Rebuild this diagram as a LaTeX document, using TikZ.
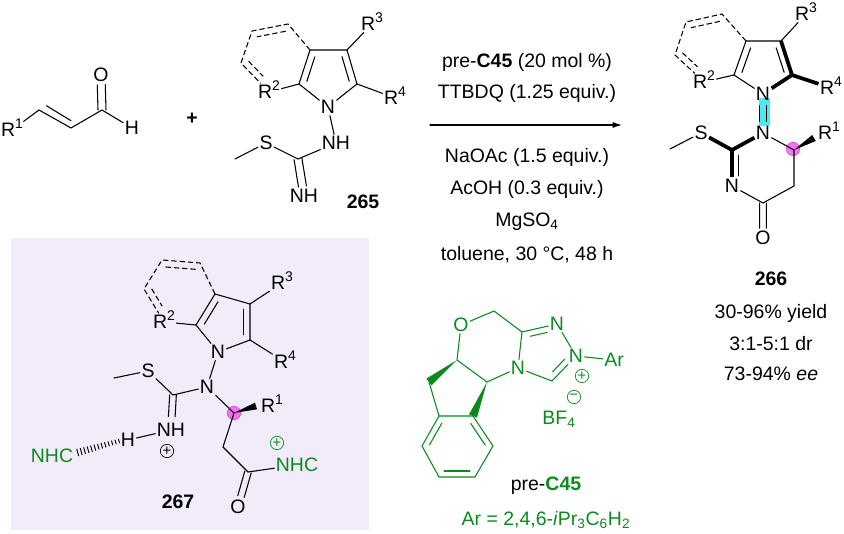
\documentclass[tikz,border=0pt]{standalone}
\usepackage{fontspec}
\setmainfont{Liberation Sans}
\usetikzlibrary{calc,arrows.meta}
\definecolor{cgreen}{HTML}{0B8A1E}
\definecolor{panel}{HTML}{F1EBFA}
\definecolor{hlmag}{HTML}{F040E8}
\definecolor{hlcy}{HTML}{50E8F0}
\newcommand{\Rs}[1]{R\raisebox{0.42em}{\fontsize{10.5}{11}\selectfont #1}}
\newcommand{\dbl}[5]{\draw[bond] ($(#1)!#4!(#2)!#3!90:(#2)$) -- ($(#1)!#5!(#2)!#3!90:(#2)$);}
\newcommand{\wdg}[3]{\fill ($(#1)$) -- ($(#2)!#3!90:(#1)$) -- ($(#2)!#3!-90:(#1)$) -- cycle;}
\tikzset{
  x=0.75pt,y=-0.75pt,
  bond/.style={line width=0.8pt,line cap=round},
  bold bond/.style={line width=2.8pt,line cap=butt},
  dashbond/.style={line width=0.8pt,dash pattern=on 4pt off 2.2pt},
  atom/.style={inner sep=1pt,font=\fontsize{14.6}{15}\selectfont,text height=10.5pt,text depth=0pt},
  lab/.style={inner sep=0pt,font=\fontsize{14.6}{16}\selectfont},
  num/.style={inner sep=0pt,font=\fontsize{14.6}{16}\selectfont\bfseries},
  chg/.style={circle,draw,line width=0.5pt,inner sep=0pt,minimum size=10pt,font=\fontsize{11}{11}\selectfont},
  hlspot/.style={circle,fill=hlmag,fill opacity=0.7,draw=hlmag,line width=0.5pt,minimum size=10pt,inner sep=0pt},
}
\begin{document}
\begin{tikzpicture}
\useasboundingbox (0,0) rectangle (844,534);
% panel
\fill[panel] (11,238) rectangle (369,530);

% ---- enal
\node[atom] (eR) at (12,130) {\Rs{1}};
\coordinate (e1) at (39,110);
\coordinate (e2) at (71,128);
\coordinate (e3) at (102,110);
\node[atom] (eO) at (101,75) {O};
\node[atom] (eH) at (132,128) {H};
\draw[bond] (eR) -- (e1) -- (e2) -- (e3) -- (eH);
\dbl{e1}{e2}{5.5pt}{0.12}{1}
\dbl{e3}{eO}{3pt}{0}{0.72}
\dbl{e3}{eO}{-3pt}{0}{0.72}
\node[inner sep=0pt,font=\fontsize{14.6}{15}\selectfont\bfseries] (plus) at (192,119) {+};

% ---- 265
\node[atom] (aN) at (328,107) {N};
\coordinate (a2) at (299,84);
\coordinate (a3) at (310,50);
\coordinate (a4) at (347,50);
\coordinate (a5) at (357,84);
\node[atom] (aR3) at (372,24) {\Rs{3}};
\node[atom] (aR4) at (395,98) {\Rs{4}};
\node[atom] (aR2) at (269,92) {\Rs{2}};
\coordinate (at1) at (288,24);
\coordinate (at2) at (252,31);
\coordinate (at3) at (241,63);
\node[atom] (aNH) at (336,143) {NH};
\coordinate (aC) at (298,159);
\node[atom] (aS) at (266,143) {S};
\coordinate (aMe) at (235,159);
\node[atom] (aNH2) at (304,196) {NH};
\node[num] (n265) at (363,202) {265};
\draw[bond] (aN) -- (a2) -- (a3) -- (a4) -- (a5) -- (aN);
\draw[bond] (a4) -- (aR3);
\draw[bond] (a5) -- (aR4);
\draw[bond] (a2) -- (aR2);
\dbl{a2}{a3}{-5pt}{0.14}{0.86}
\dbl{a4}{a5}{-5pt}{0.14}{0.86}
\draw[dashbond] (a3) -- (at1) -- (at2) -- (at3) -- (aR2);
\draw[dashbond] ($(at1)!0.1!(at2)!5pt!90:(at2)$) -- ($(at1)!0.9!(at2)!5pt!90:(at2)$);
\draw[dashbond] ($(at3)!0.1!(aR2)!5pt!90:(aR2)$) -- ($(at3)!0.62!(aR2)!5pt!90:(aR2)$);
\draw[bond] (aN) -- (aNH);
\draw[bond] (aNH) -- (aC) -- (aS) -- (aMe);
\dbl{aC}{aNH2}{3pt}{0}{0.74}
\dbl{aC}{aNH2}{-3pt}{0}{0.74}

% ---- reagents
\node[lab] (r1) at (527,62) {pre-\textbf{C45} (20 mol \%)};
\node[lab] (r2) at (527,93) {TTBDQ (1.25 equiv.)};
\coordinate (arS) at (430,125);
\coordinate (arE) at (622,125);
\draw[bond,-{Latex[length=7pt,width=4.5pt]}] (arS) -- (arE);
\node[lab] (r3) at (527,157) {NaOAc (1.5 equiv.)};
\node[lab] (r4) at (527,189) {AcOH (0.3 equiv.)};
\node[lab] (r5) at (527,222) {MgSO\textsubscript{4}};
\node[lab] (r6) at (527,255) {toluene, 30 °C, 48 h};

% ---- 266
\fill[hlcy] (759,98) rectangle (770,126);
\node[hlspot] (pMag) at (793,149) {};
\node[atom] (pN) at (763,94) {N};
\coordinate (p2) at (734,75);
\coordinate (p3) at (746,41);
\coordinate (p4) at (781,41);
\coordinate (p5) at (792,75);
\node[atom] (pR3) at (806,14) {\Rs{3}};
\node[atom] (pR4) at (831,88) {\Rs{4}};
\node[atom] (pR2) at (704,82) {\Rs{2}};
\coordinate (pt1) at (722,14);
\coordinate (pt2) at (686,22);
\coordinate (pt3) at (675,55);
\node[atom] (pN2) at (763,133) {N};
\node[atom] (pS) at (701,133) {S};
\coordinate (pMe) at (670,149);
\coordinate (pC) at (732,150);
\node[atom] (pN3) at (732,186) {N};
\coordinate (pCO) at (763,203);
\node[atom] (pO) at (763,238) {O};
\coordinate (pCH2) at (794,186);
\coordinate (pCH) at (794,150);
\node[atom] (pR1) at (829,133) {\Rs{1}};
\coordinate (pwE) at (814,138);
\draw[bond] (pN) -- (p2) -- (p3) -- (p4);
\draw[bond] (p4) -- (pR3);
\draw[bond] (p2) -- (pR2);
\draw[bold bond] (p4) -- (p5);
\draw[bold bond] (p5) -- (pR4);
\draw[bold bond] (p5) -- (pN);
\dbl{p2}{p3}{-5pt}{0.14}{0.86}
\dbl{p4}{p5}{-5pt}{0.14}{0.86}
\draw[dashbond] (p3) -- (pt1) -- (pt2) -- (pt3) -- (pR2);
\draw[dashbond] ($(pt1)!0.1!(pt2)!5pt!90:(pt2)$) -- ($(pt1)!0.9!(pt2)!5pt!90:(pt2)$);
\draw[dashbond] ($(pt3)!0.1!(pR2)!5pt!90:(pR2)$) -- ($(pt3)!0.62!(pR2)!5pt!90:(pR2)$);
\dbl{pN}{pN2}{2.5pt}{0.3}{0.7}
\dbl{pN}{pN2}{-2.5pt}{0.3}{0.7}
\draw[bond] (pMe) -- (pS);
\draw[bold bond] (pS) -- (pC);
\draw[bold bond] (pC) -- (pN2);
\draw[bold bond] (pC) -- (pN3);
\dbl{pC}{pN3}{5pt}{0.14}{0.72}
\draw[bond] (pN3) -- (pCO) -- (pCH2) -- (pCH) -- (pN2);
\dbl{pCO}{pO}{2.5pt}{0}{0.72}
\dbl{pCO}{pO}{-2.5pt}{0}{0.72}
\wdg{pCH}{pwE}{2.6pt}
\node[num] (n266) at (771,279) {266};
\node[lab] (p1l) at (771,313) {30-96\% yield};
\node[lab] (p2l) at (771,344) {3:1-5:1 dr};
\node[lab] (p3l) at (771,374) {73-94\% \textit{ee}};

% ---- 267
\node[hlspot] (iMag) at (234,413) {};
\node[atom] (iN) at (218,352) {N};
\coordinate (i2) at (196,325);
\coordinate (i3) at (215,294);
\coordinate (i4) at (250,304);
\coordinate (i5) at (250,340);
\node[atom] (iR3) at (282,283) {\Rs{3}};
\node[atom] (iR4) at (285,362) {\Rs{4}};
\node[atom] (iR2) at (164,322) {\Rs{2}};
\coordinate (it1) at (200,263);
\coordinate (it2) at (162,260);
\coordinate (it3) at (144,289);
\node[atom] (iN2) at (207,387) {N};
\node[atom] (iS) at (148,371) {S};
\coordinate (iMe) at (114,378);
\coordinate (iC) at (173,395);
\node[atom] (iNH) at (171,430) {NH};
\node[chg] (iPl) at (167,451) {+};
\node[atom] (iH) at (128,440) {H};
\node[atom,text=cgreen] (iNHC) at (52,456) {NHC};
\coordinate (iCH) at (234,413);
\coordinate (iwE) at (256,406);
\node[atom] (iR1) at (272,406) {\Rs{1}};
\coordinate (iCH2) at (223,447);
\coordinate (iCO) at (248,472);
\node[atom] (iO) at (238,507) {O};
\node[atom,text=cgreen] (iNHC2) at (297,465) {NHC};
\node[chg,draw=cgreen,text=cgreen] (iPl2) at (277,443) {+};
\node[num] (n267) at (178,502) {267};
\draw[bond] (iN) -- (i2) -- (i3) -- (i4) -- (i5) -- (iN);
\draw[bond] (i4) -- (iR3);
\draw[bond] (i5) -- (iR4);
\draw[bond] (i2) -- (iR2);
\dbl{i2}{i3}{-5pt}{0.14}{0.86}
\dbl{i4}{i5}{-5pt}{0.14}{0.86}
\draw[dashbond] (i3) -- (it1) -- (it2) -- (it3) -- (iR2);
\draw[dashbond] ($(it1)!0.1!(it2)!5pt!90:(it2)$) -- ($(it1)!0.9!(it2)!5pt!90:(it2)$);
\draw[dashbond] ($(it3)!0.1!(iR2)!5pt!90:(iR2)$) -- ($(it3)!0.62!(iR2)!5pt!90:(iR2)$);
\draw[bond] (iN) -- (iN2);
\draw[bond] (iMe) -- (iS) -- (iC) -- (iN2) -- (iCH);
\dbl{iC}{iNH}{2.5pt}{0}{0.62}
\dbl{iC}{iNH}{-2.5pt}{0}{0.62}
\draw[bond] (iNH) -- (iH);
\coordinate (hA) at (119,441);
\coordinate (hB) at (76,453);
\foreach \t/\l in {0/1.6,0.08/1.7,0.16/1.8,0.24/1.9,0.32/2.0,0.4/2.1,0.48/2.2,0.56/2.3,0.64/2.4,0.72/2.5,0.8/2.6,0.88/2.7,0.96/2.8,1/2.9}
  \draw[line width=0.7pt] ($(hA)!\t!(hB)!\l pt!90:(hB)$) -- ($(hA)!\t!(hB)!\l pt!-90:(hB)$);
\wdg{iCH}{iwE}{2.6pt}
\draw[bond] (iCH) -- (iCH2) -- (iCO) -- (iNHC2);
\dbl{iCO}{iO}{2.5pt}{0}{0.7}
\dbl{iCO}{iO}{-2.5pt}{0}{0.7}

% ---- pre-C45
\begin{scope}[color=cgreen]
\node[atom] (cO) at (461,325) {O};
\coordinate (c1) at (494,311);
\coordinate (c2) at (522,332);
\node[atom] (cN1) at (557,324) {N};
\node[atom] (cN2) at (576,356) {N};
\node[atom] (cAr) at (614,360) {Ar};
\coordinate (c3) at (552,381);
\node[atom] (cN3) at (518,368) {N};
\coordinate (c4) at (487,382);
\coordinate (c5) at (457,360);
\coordinate (c6) at (429,382);
\coordinate (c7) at (439,416);
\coordinate (c8) at (473,416);
\coordinate (c9) at (493,446);
\coordinate (c10) at (475,477);
\coordinate (c11) at (439,477);
\coordinate (c12) at (422,446);
\draw[bond] (cO) -- (c1) -- (c2) -- (cN1) -- (cN2) -- (c3) -- (cN3) -- (c2);
\draw[bond] (cN2) -- (cAr);
\draw[bond] (cO) -- (c5) -- (c4) -- (cN3);
\draw[bond] (c6) -- (c7) -- (c8) -- (c9) -- (c10) -- (c11) -- (c12) -- (c7);
\fill (c5) -- ($(c6)!3.2pt!90:(c5)$) -- ($(c6)!3.2pt!-90:(c5)$) -- cycle;
\fill (c4) -- ($(c8)!3.2pt!90:(c4)$) -- ($(c8)!3.2pt!-90:(c4)$) -- cycle;
\dbl{c2}{cN1}{-4.5pt}{0.2}{0.68}
\dbl{c3}{cN2}{4.5pt}{0.2}{0.7}
\dbl{c8}{c9}{-4.5pt}{0.14}{0.86}
\dbl{c10}{c11}{-4.5pt}{0.14}{0.86}
\dbl{c12}{c7}{-4.5pt}{0.14}{0.86}
\node[chg,draw=cgreen] (cPl) at (582,376) {+};
\node[chg,draw=cgreen] (cMi) at (574,397) {\raisebox{0.6pt}{−}};
\node[atom] (cBF) at (559,418) {BF\textsubscript{4}};
\end{scope}
\node[lab] (cLab) at (546,486) {pre-\textcolor{cgreen}{\textbf{C45}}};
\node[lab,text=cgreen] (cAr2) at (546,520) {Ar = 2,4,6-\textit{i}Pr\textsubscript{3}C\textsubscript{6}H\textsubscript{2}};
\end{tikzpicture}
\end{document}
